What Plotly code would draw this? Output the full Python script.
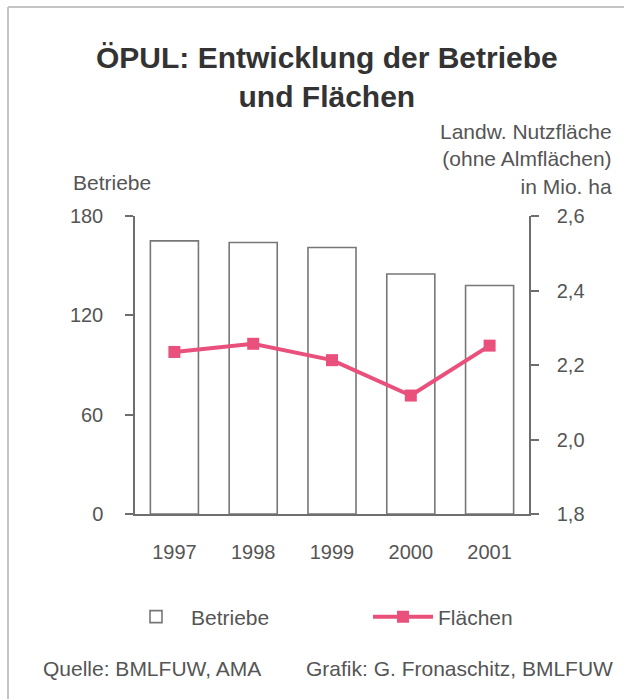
import plotly.graph_objects as go

# Data
years = ["1997", "1998", "1999", "2000", "2001"]
betriebe = [165, 164, 161, 145, 138]          # Betriebe (in 1.000)
flaechen = [2.235, 2.257, 2.213, 2.118, 2.252]  # Mio. ha

y1_ticks = [0, 60, 120, 180]
y2_ticks = [1.8, 2.0, 2.2, 2.4, 2.6]

W, H = 624, 699
ML, MR, MT, MB = 135, 95, 216, 185
PW, PH = W - ML - MR, H - MT - MB

FONT = "Liberation Sans, Arial, sans-serif"
GREY = "#555555"
AXIS = "#6e6e6e"
PINK = "#e9507b"


def px(x):
    return (x - ML) / PW


def py(y):
    return (H - MB - y) / PH


fig = go.Figure()
fig.add_trace(go.Bar(
    x=years, y=betriebe, name="Betriebe",
    marker=dict(color="white", line=dict(color="#777777", width=1.6)),
    yaxis="y",
))
fig.add_trace(go.Scatter(
    x=years, y=flaechen, name="Flächen", mode="lines+markers",
    line=dict(color=PINK, width=4),
    marker=dict(symbol="square", size=12, color=PINK),
    yaxis="y2",
))

fig.update_layout(
    width=W, height=H,
    margin=dict(l=ML, r=MR, t=MT, b=MB),
    paper_bgcolor="white", plot_bgcolor="white",
    separators=",.",
    font=dict(family=FONT, size=21, color=GREY),
    bargap=0.39,
    showlegend=True,
    legend=dict(
        orientation="h", x=px(121), y=py(617), xanchor="left", yanchor="middle",
        itemwidth=60, entrywidth=172, font=dict(size=21, color=GREY),
        bgcolor="rgba(0,0,0,0)",
    ),
    xaxis=dict(
        type="category", range=[-0.5, 4.5],
        showline=True, linecolor=AXIS, linewidth=1.5,
        ticks="", ticklabelstandoff=19, showgrid=False,
        tickfont=dict(size=20, color=GREY),
    ),
    yaxis=dict(
        range=[0, 180], tickvals=y1_ticks,
        showline=True, linecolor=AXIS, linewidth=1.5,
        ticks="outside", ticklen=8, tickcolor=AXIS, tickwidth=1.5,
        ticklabelstandoff=18, showgrid=False, zeroline=False,
        tickfont=dict(size=20, color=GREY),
    ),
    yaxis2=dict(
        range=[1.8, 2.6], tickvals=y2_ticks, tickformat=".1f",
        overlaying="y", side="right",
        showline=True, linecolor=AXIS, linewidth=1.5,
        ticks="outside", ticklen=8, tickcolor=AXIS, tickwidth=1.5,
        ticklabelstandoff=14, showgrid=False, zeroline=False,
        tickfont=dict(size=20, color=GREY),
    ),
)

annotations = [
    dict(text="<b>ÖPUL: Entwicklung der Betriebe<br>und Flächen</b>",
         x=px(327), y=py(77), font=dict(size=30, color="#333333")),
    dict(text="Betriebe", x=px(71), y=py(182), xanchor="left",
         font=dict(size=21, color=GREY)),
    dict(text="Landw. Nutzfläche<br>(ohne Almflächen)<br>in Mio. ha",
         x=px(614), y=py(118), xanchor="right", yanchor="top", align="right",
         font=dict(size=21, color=GREY)),
    dict(text="Quelle: BMLFUW, AMA", x=px(41), y=py(668), xanchor="left",
         font=dict(size=21, color=GREY)),
    dict(text="Grafik: G. Fronaschitz, BMLFUW", x=px(615), y=py(668),
         xanchor="right", font=dict(size=21, color=GREY)),
]
for a in annotations:
    a.setdefault("xanchor", "center")
    a.setdefault("yanchor", "middle")
    fig.add_annotation(xref="paper", yref="paper", showarrow=False, **a)

# Frame around the graphic (left and top edges)
frame = dict(color="#c4c4c4", width=2)
fig.add_shape(type="line", xref="paper", yref="paper",
              x0=px(8), x1=px(8), y0=py(7), y1=py(H + 5), line=frame)
fig.add_shape(type="line", xref="paper", yref="paper",
              x0=px(8), x1=px(W + 5), y0=py(7), y1=py(7), line=frame)

fig.write_html("out.html")
